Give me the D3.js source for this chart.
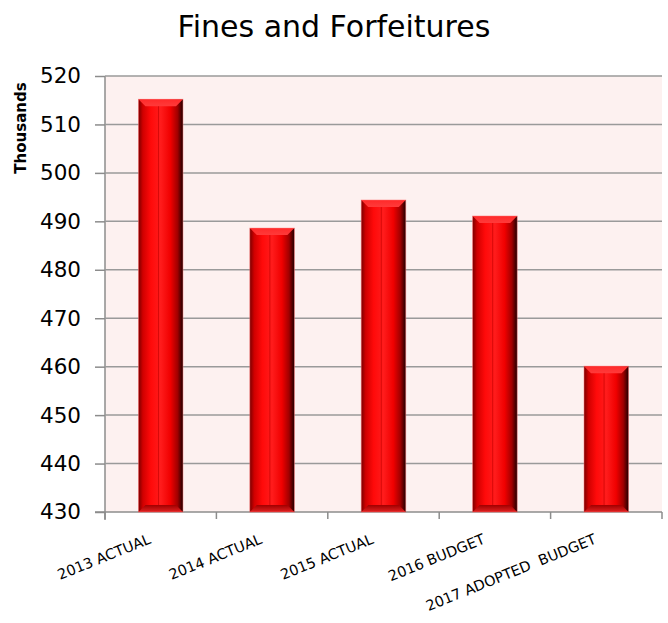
<!DOCTYPE html>
<html>
<head>
<meta charset="utf-8">
<script src="https://cdn.jsdelivr.net/npm/d3@7"></script>
<style>
  body { margin: 0; background: #fff; }
  svg { display: block; }
</style>
</head>
<body>
<svg id="chart" width="668" height="623"></svg>
<script>
// Fines and Forfeitures, in thousands of dollars
const categories = ["2013 ACTUAL", "2014 ACTUAL", "2015 ACTUAL", "2016 BUDGET", "2017 ADOPTED  BUDGET"];
const values = [515.2, 488.6, 494.4, 491.1, 460.1];
const yTicks = [430, 440, 450, 460, 470, 480, 490, 500, 510, 520];

const svg = d3.select("#chart");
const margin = { left: 105, right: 6, top: 76, bottom: 111 };
const W = 668, H = 623;
const x0 = margin.left, x1 = W - margin.right;
const y0 = H - margin.bottom, y1 = margin.top;

const x = d3.scaleBand().domain(categories).range([x0, x1]).paddingInner(0.6).paddingOuter(0.3);
const y = d3.scaleLinear().domain([430, 520]).range([y0, y1]);

// gradients for the bevelled bars
const defs = svg.append("defs");
const g = defs.append("linearGradient").attr("id", "barFace").attr("x1", 0).attr("x2", 1).attr("y1", 0).attr("y2", 0);
[[0, "#7a0000"], [0.1, "#d00000"], [0.28, "#ff0a0a"], [0.5, "#ff1c1c"], [0.72, "#f00000"], [0.88, "#a00000"], [1, "#200000"]]
  .forEach(([o, c]) => g.append("stop").attr("offset", o).attr("stop-color", c));
const gt = defs.append("linearGradient").attr("id", "barTop").attr("x1", 0).attr("x2", 0).attr("y1", 0).attr("y2", 1);
[[0, "#ff2a2a"], [1, "#ff3a3a"]].forEach(([o, c]) => gt.append("stop").attr("offset", o).attr("stop-color", c));
const gb = defs.append("linearGradient").attr("id", "barBottom").attr("x1", 0).attr("x2", 0).attr("y1", 0).attr("y2", 1);
[[0, "#a00000"], [1, "#e02020"]].forEach(([o, c]) => gb.append("stop").attr("offset", o).attr("stop-color", c));

// plot background
svg.append("rect").attr("x", x0).attr("y", y1).attr("width", x1 - x0).attr("height", y0 - y1).attr("fill", "#fdf1f0");

// horizontal gridlines + y axis
const yAxis = d3.axisLeft(y).tickValues(yTicks).tickSize(10).tickPadding(14).tickFormat(d3.format("d"));
const ya = svg.append("g").attr("transform", `translate(${x0},0)`).call(yAxis);
ya.select(".domain").attr("stroke", "#8c8c8c").attr("stroke-width", 1.5).attr("d", `M0,${y0 + 8}V${y1}`);
ya.selectAll(".tick line").attr("stroke", "#8c8c8c").attr("stroke-width", 1.5);
ya.selectAll(".tick text").attr("font-family", "DejaVu Sans, Verdana, sans-serif").attr("font-size", 21.5).attr("fill", "#000");
svg.append("g").selectAll("line").data(yTicks.filter(d => d > 430)).join("line")
  .attr("x1", x0).attr("x2", x1).attr("y1", d => y(d)).attr("y2", d => y(d))
  .attr("stroke", "#9a9a9a").attr("stroke-width", 1.5);

// x axis with ticks between categories
const step = (x1 - x0) / categories.length;
const xb = svg.append("g");
xb.append("line").attr("x1", x0 - 10).attr("x2", x1).attr("y1", y0).attr("y2", y0).attr("stroke", "#8c8c8c").attr("stroke-width", 1.5);
xb.selectAll("line.tk").data(d3.range(categories.length + 1)).join("line").attr("class", "tk")
  .attr("x1", i => x0 + i * step).attr("x2", i => x0 + i * step).attr("y1", y0).attr("y2", y0 + 7)
  .attr("stroke", "#8c8c8c").attr("stroke-width", 1.5);

// bars
const bw = x.bandwidth();
const bev = 7;
const bars = svg.append("g").selectAll("g").data(categories.map((c, i) => ({ c, v: values[i] }))).join("g");
bars.append("rect").attr("x", d => x(d.c)).attr("y", d => y(d.v)).attr("width", bw).attr("height", d => y0 - y(d.v))
  .attr("fill", "url(#barFace)");
bars.append("path").attr("fill", "url(#barTop)").attr("d", d => {
  const l = x(d.c), t = y(d.v);
  return `M${l},${t}H${l + bw}L${l + bw - bev},${t + bev}H${l + bev}Z`;
});
bars.append("path").attr("fill", "url(#barBottom)").attr("d", d => {
  const l = x(d.c);
  return `M${l},${y0}H${l + bw}L${l + bw - bev},${y0 - bev}H${l + bev}Z`;
});
bars.append("line").attr("x1", d => x(d.c) + bw * 0.45).attr("x2", d => x(d.c) + bw * 0.45)
  .attr("y1", d => y(d.v) + bev).attr("y2", y0 - bev).attr("stroke", "#c00000").attr("stroke-width", 1).attr("opacity", 0.6);
bars.append("rect").attr("x", d => x(d.c)).attr("y", d => y(d.v)).attr("width", bw).attr("height", d => y0 - y(d.v))
  .attr("fill", "none").attr("stroke", "#ff7070").attr("stroke-width", 0.8).attr("opacity", 0.6);

// category labels
svg.append("g").selectAll("text").data(categories).join("text")
  .attr("transform", d => `translate(${x(d) + bw / 2 - 9},${y0 + 31}) rotate(-22)`)
  .attr("text-anchor", "end")
  .attr("font-family", "DejaVu Sans, Verdana, sans-serif").attr("font-size", 14.5)
  .style("white-space", "pre")
  .text(d => d);

// axis title
svg.append("text").attr("transform", `translate(26,128) rotate(-90)`)
  .attr("text-anchor", "middle").attr("font-family", "DejaVu Sans, Arial, sans-serif").attr("font-weight", "bold")
  .attr("font-size", 15).text("Thousands");

// chart title
svg.append("text").attr("x", 334).attr("y", 37).attr("text-anchor", "middle")
  .attr("font-family", "DejaVu Sans, Verdana, sans-serif").attr("font-size", 30).text("Fines and Forfeitures");
</script>
</body>
</html>
